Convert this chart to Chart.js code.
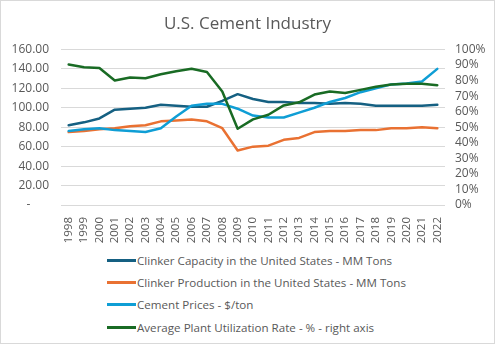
<!DOCTYPE html>
<html>
<head>
<meta charset="utf-8">
<script src="https://cdn.jsdelivr.net/npm/chart.js@4.4.1/dist/chart.umd.min.js"></script>
<style>
  html, body { margin: 0; padding: 0; background: #fff; }
  #frame {
    position: relative; width: 493px; height: 342px;
    border: 1px solid #d9d9d9; background: #fff; overflow: hidden;
  }
  #wrap { position: absolute; left: -1px; top: -1px; width: 495px; height: 244px; }
  #legend {
    position: absolute; left: 106px; top: 248px;
    font-family: "Open Sans", sans-serif; font-size: 11.6px; color: #595959;
  }
  .item { height: 22.4px; display: flex; align-items: center; white-space: nowrap; }
  .swatch { display: inline-block; width: 29px; height: 3px; margin-right: 1px; }
</style>
</head>
<body>
<div id="frame">
  <div id="wrap"><canvas id="chart"></canvas></div>
  <div id="legend"></div>
</div>
<script>
const years = ['1998','1999','2000','2001','2002','2003','2004','2005','2006','2007','2008','2009','2010',
               '2011','2012','2013','2014','2015','2016','2017','2018','2019','2020','2021','2022'];

const capacity   = [82, 85, 89, 98, 99, 100, 103, 102, 101, 101, 107, 114, 109, 106, 106, 105, 105, 104, 105, 104, 102, 102, 102, 102, 103];
const production = [75, 76, 78, 79, 81, 82, 86, 87, 88, 86, 79, 56, 60, 61, 67, 69, 75, 76, 76, 77, 77, 79, 79, 80, 79];
const prices     = [76, 78, 79, 77, 76, 75, 79, 91, 102, 104, 104, 99, 92, 90, 90, 95, 100, 106, 110, 116, 120, 124, 125, 127, 140];
const utilization = [0.903, 0.885, 0.88, 0.80, 0.82, 0.815, 0.84, 0.86, 0.875, 0.855, 0.73, 0.49, 0.55, 0.58,
                     0.64, 0.66, 0.71, 0.73, 0.72, 0.74, 0.76, 0.775, 0.78, 0.78, 0.77];

const seriesNames = [
  'Clinker Capacity in the United States - MM Tons',
  'Clinker Production in the United States - MM Tons',
  'Cement Prices - $/ton',
  'Average Plant Utilization Rate - % - right axis'
];
const colors = ['#156082', '#E97132', '#0F9ED5', '#196B24'];

const font = "'Open Sans', sans-serif";
const textColor = '#595959';

function lineSet(i, values, axis, order) {
  return {
    label: seriesNames[i],
    data: values,
    yAxisID: axis,
    borderColor: colors[i],
    backgroundColor: colors[i],
    borderWidth: 2.5,
    pointRadius: 0,
    tension: 0,
    borderJoinStyle: 'round',
    borderCapStyle: 'round',
    order: order
  };
}

const ctx = document.getElementById('chart').getContext('2d');
new Chart(ctx, {
  type: 'line',
  data: {
    labels: years,
    datasets: [
      lineSet(0, capacity, 'y', 4),
      lineSet(1, production, 'y', 3),
      lineSet(2, prices, 'y', 2),
      lineSet(3, utilization, 'y1', 1)
    ]
  },
  options: {
    responsive: true,
    maintainAspectRatio: false,
    animation: false,
    layout: { padding: 0 },
    plugins: {
      legend: { display: false },
      tooltip: { enabled: false },
      title: {
        display: true,
        text: 'U.S. Cement Industry',
        color: textColor,
        font: { family: font, size: 17, weight: 'normal' },
        padding: { top: 14, bottom: 15 }
      }
    },
    scales: {
      x: {
        offset: true,
        grid: { display: false },
        border: { display: false },
        ticks: {
          color: textColor, font: { family: font, size: 11.5 },
          minRotation: 90, maxRotation: 90, autoSkip: false, padding: 4
        },
        afterFit: s => { s.height = 39; }
      },
      y: {
        position: 'left',
        min: 0, max: 160,
        grid: { color: '#d9d9d9', lineWidth: 1, drawTicks: false },
        border: { display: false },
        ticks: {
          stepSize: 20, color: textColor, font: { family: font, size: 12 }, padding: 12,
          autoSkip: false,
          callback: v => v === 0 ? '-      ' : v.toFixed(2)
        },
        afterFit: s => { s.width = 61; }
      },
      y1: {
        position: 'right',
        min: 0, max: 1,
        grid: { display: false, drawTicks: false },
        border: { display: false },
        ticks: {
          stepSize: 0.1, color: textColor, font: { family: font, size: 12 }, padding: 10,
          autoSkip: false,
          callback: v => Math.round(v * 100) + '%'
        },
        afterFit: s => { s.width = 50; }
      }
    }
  }
});

const legend = document.getElementById('legend');
seriesNames.forEach((name, i) => {
  const row = document.createElement('div');
  row.className = 'item';
  const sw = document.createElement('span');
  sw.className = 'swatch';
  sw.style.background = colors[i];
  row.appendChild(sw);
  row.appendChild(document.createTextNode(name));
  legend.appendChild(row);
});
</script>
</body>
</html>
